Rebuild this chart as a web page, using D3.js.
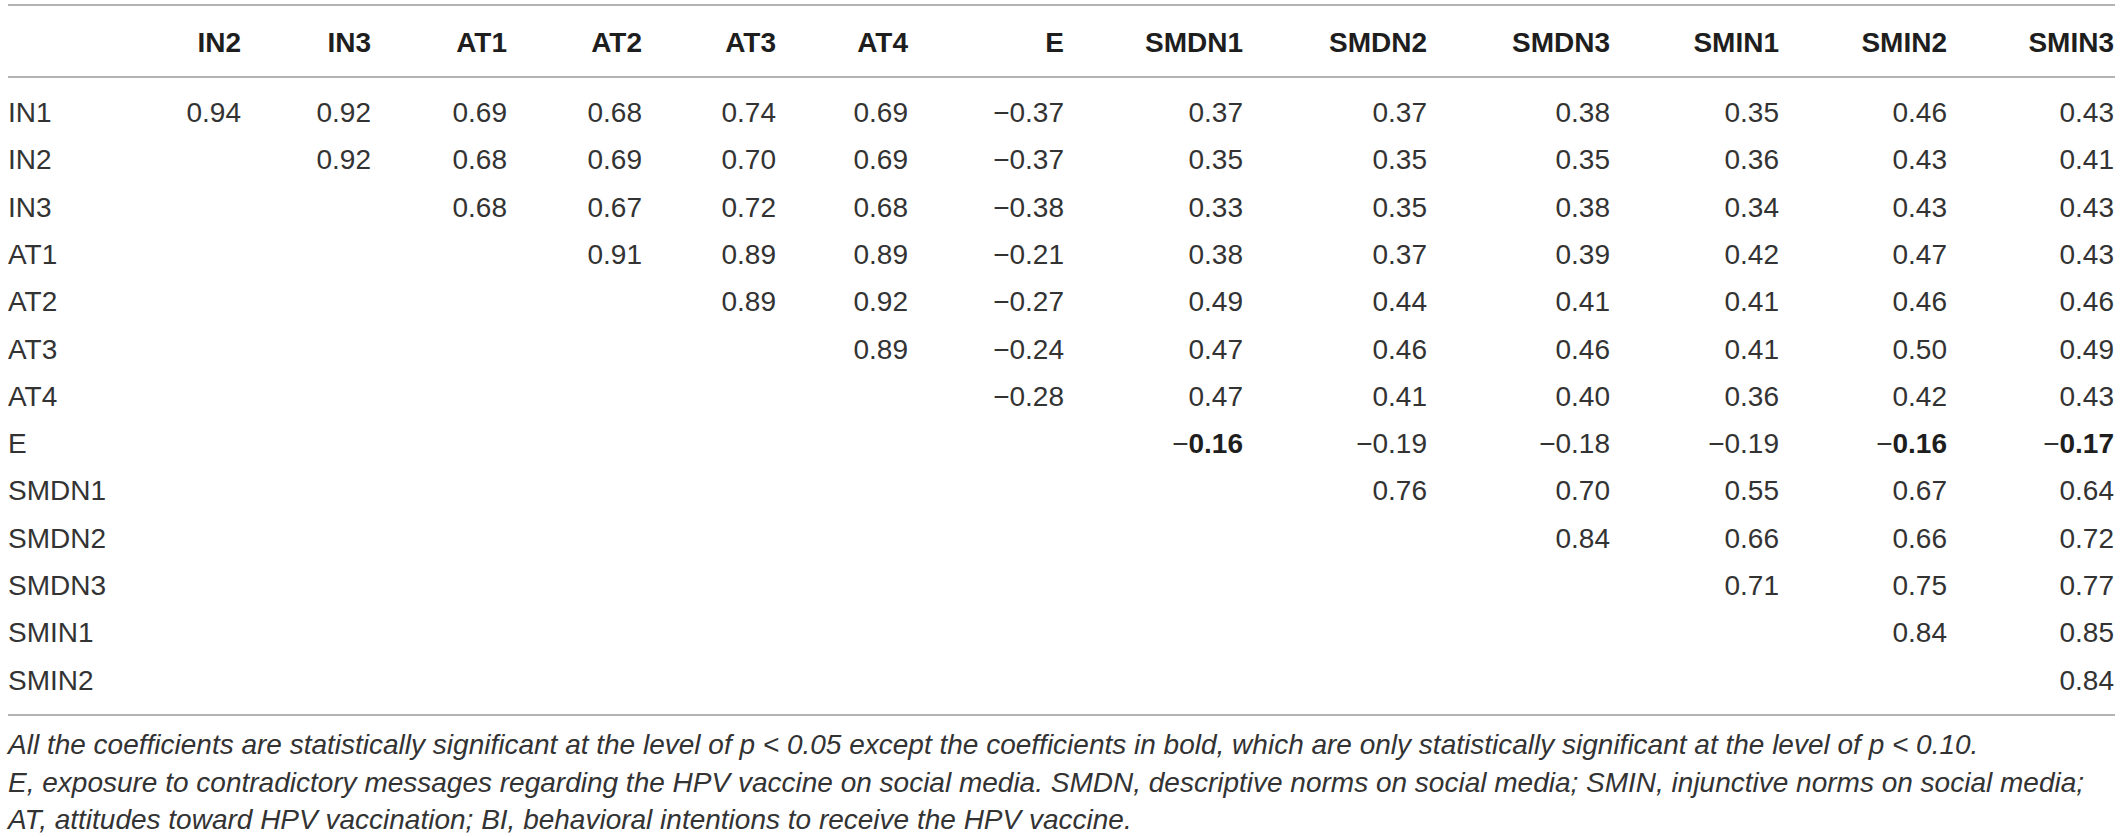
<!DOCTYPE html>
<html lang="en">
  <head>
    <meta charset="utf-8">
    <title>Correlation table</title>
    <style>
      body { margin: 0; background: #fff; }
      text { font-family: "Liberation Sans", Arial, sans-serif; fill: #333; }
      .head { font-weight: bold; fill: #1e1e1e; }
      .rule { stroke: #b4b4b4; stroke-width: 2; }
      .note { font-style: italic; }
    </style>
    <script src="https://cdn.jsdelivr.net/npm/d3@7/dist/d3.min.js"></script>
  </head>
  <body>
  <svg width="2120" height="837"></svg>
    <script>
// table data
var columns = ["IN2", "IN3", "AT1", "AT2", "AT3", "AT4", "E", "SMDN1", "SMDN2", "SMDN3", "SMIN1", "SMIN2", "SMIN3"];
var rows = ["IN1", "IN2", "IN3", "AT1", "AT2", "AT3", "AT4", "E", "SMDN1", "SMDN2", "SMDN3", "SMIN1", "SMIN2"];

// each row starts at the column with the same index (upper triangle)
var values = [
  [0.94, 0.92, 0.69, 0.68, 0.74, 0.69, -0.37, 0.37, 0.37, 0.38, 0.35, 0.46, 0.43],
  [0.92, 0.68, 0.69, 0.70, 0.69, -0.37, 0.35, 0.35, 0.35, 0.36, 0.43, 0.41],
  [0.68, 0.67, 0.72, 0.68, -0.38, 0.33, 0.35, 0.38, 0.34, 0.43, 0.43],
  [0.91, 0.89, 0.89, -0.21, 0.38, 0.37, 0.39, 0.42, 0.47, 0.43],
  [0.89, 0.92, -0.27, 0.49, 0.44, 0.41, 0.41, 0.46, 0.46],
  [0.89, -0.24, 0.47, 0.46, 0.46, 0.41, 0.50, 0.49],
  [-0.28, 0.47, 0.41, 0.40, 0.36, 0.42, 0.43],
  [-0.16, -0.19, -0.18, -0.19, -0.16, -0.17],
  [0.76, 0.70, 0.55, 0.67, 0.64],
  [0.84, 0.66, 0.66, 0.72],
  [0.71, 0.75, 0.77],
  [0.84, 0.85],
  [0.84]
];

// cells only significant at p < 0.10 (shown bold)
var boldCells = ["E|SMDN1", "E|SMIN2", "E|SMIN3"];

var notes = [
  "All the coefficients are statistically significant at the level of p < 0.05 except the coefficients in bold, which are only statistically significant at the level of p < 0.10.",
  "E, exposure to contradictory messages regarding the HPV vaccine on social media. SMDN, descriptive norms on social media; SMIN, injunctive norms on social media;",
  "AT, attitudes toward HPV vaccination; BI, behavioral intentions to receive the HPV vaccine."
];

var svg = d3.select("svg");
var fontSize = 28;

// layout: right edge of each column, rows evenly spaced
var xCol = d3.scaleOrdinal()
    .domain(columns)
    .range([241, 371, 507, 642, 776, 908, 1064, 1243, 1427, 1610, 1779, 1947, 2114]);
var yRow = d3.scalePoint()
    .domain(rows)
    .range([122, 122 + 47.3 * (rows.length - 1)]);

var left = 8, right = 2115;

// rules
svg.selectAll("line.rule")
    .data([5, 77, 715])
    .enter()
    .append("line")
    .attr("class", "rule")
    .attr("x1", left)
    .attr("x2", right)
    .attr("y1", function(d) { return d; })
    .attr("y2", function(d) { return d; });

// header
svg.selectAll("text.head")
    .data(columns)
    .enter()
    .append("text")
    .attr("class", "head")
    .attr("x", function(d) { return xCol(d); })
    .attr("y", 52)
    .attr("text-anchor", "end")
    .style("font-size", fontSize + "px")
    .text(function(d) { return d; });

// row labels
svg.selectAll("text.rowlab")
    .data(rows)
    .enter()
    .append("text")
    .attr("class", "rowlab")
    .attr("x", left)
    .attr("y", function(d) { return yRow(d); })
    .style("font-size", fontSize + "px")
    .text(function(d) { return d; });

// cells
var cells = [];
values.forEach(function(row, i) {
  row.forEach(function(v, j) {
    var col = columns[i + j];
    cells.push({row: rows[i], col: col, value: v, bold: boldCells.indexOf(rows[i] + "|" + col) >= 0});
  });
});

var fmt = d3.format(".2f");
var cell = svg.selectAll("text.cell")
    .data(cells)
    .enter()
    .append("text")
    .attr("class", "cell")
    .attr("x", function(d) { return xCol(d.col); })
    .attr("y", function(d) { return yRow(d.row); })
    .attr("text-anchor", "end")
    .style("font-size", fontSize + "px");

cell.filter(function(d) { return d.value < 0; })
    .append("tspan")
    .text("\u2212");
cell.append("tspan")
    .style("font-weight", function(d) { return d.bold ? "bold" : null; })
    .style("fill", function(d) { return d.bold ? "#1e1e1e" : null; })
    .text(function(d) { return fmt(Math.abs(d.value)); });

// footnotes
svg.selectAll("text.note")
    .data(notes)
    .enter()
    .append("text")
    .attr("class", "note")
    .attr("x", left)
    .attr("y", function(d, i) { return 754 + i * 37.5; })
    .style("font-size", "28px")
    .text(function(d) { return d; });
    </script>
  </body>
</html>
